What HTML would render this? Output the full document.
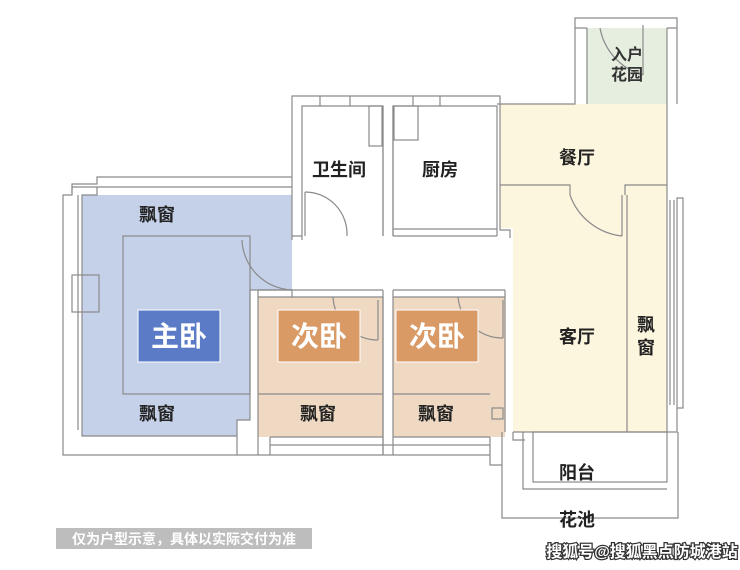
<!DOCTYPE html>
<html><head><meta charset="utf-8"><style>
html,body{margin:0;padding:0;background:#fff;}
svg{display:block;}
text{font-family:"Liberation Sans","Noto Sans CJK SC",sans-serif;font-weight:bold;}
</style></head><body>
<svg width="740" height="570" viewBox="0 0 740 570" xmlns="http://www.w3.org/2000/svg">
<!-- fills -->
<polygon points="82,195 292,195 292,290 250,290 250,420 237,420 237,436 82,436" fill="#c5d1e9"/>
<rect x="258" y="297" width="125" height="140" fill="#efd9c3"/>
<rect x="393" y="297" width="112" height="140" fill="#efd9c3"/>
<polygon points="500,104 667,104 667,432 513,432 513,228 500,228" fill="#fdf6df"/>
<rect x="587" y="28" width="80" height="76" fill="#e5eedf"/>
<g fill="none" stroke="#8a8a8a" stroke-width="1.2">
<!-- master bedroom walls -->
<path d="M292,177 H97 V184 H72 V195 H63 V455 H237"/>
<path d="M292,187 H72 V193"/>
<path d="M97,187 V195 H82 V436 H237"/>
<path d="M78,195 V430"/>
<rect x="72" y="275" width="27" height="37"/>
<rect x="123" y="236" width="127" height="158"/>
<path d="M250,290 V420 H237 V455 H270 V437"/>
<path d="M250,290 H292 V297"/>
<path d="M242,240 A52,52 0 0 0 292,290"/>
<!-- bath kitchen -->
<path d="M292,177 V96 H500 V104"/>
<path d="M302,240 V106 H383 V236"/>
<path d="M393,236 V106 H497 V236"/>
<path d="M383,106 V236 M393,106 V236"/>
<path d="M320,96 V106 M350,96 V106 M413,96 V106 M440,96 V106"/>
<rect x="369" y="106" width="13" height="40"/>
<rect x="394" y="106" width="24" height="34"/>
<path d="M305,192 A42,42 0 0 1 347,236"/>
<path d="M305,192 V236"/>
<path d="M393,229 H497 M393,236 H497"/>
<path d="M292,236 H302 M292,177 V240"/>
<!-- secondary bedrooms -->
<path d="M258,290 V455 M258,297 H383 V455 M393,297 H505"/>
<path d="M383,290 V455 M393,290 V455"/>
<path d="M258,290 H383 M393,290 H505"/>
<path d="M258,394 H383 M393,394 H490"/>
<path d="M270,437 H383 M393,437 H490 M270,445 H490 M270,455 H490"/>
<path d="M333,297 A45,45 0 0 0 378,340"/>
<path d="M458,297 A45,45 0 0 0 503,338"/>
<path d="M378,300 V340 M503,300 V338"/>
<rect x="492" y="408" width="11" height="11"/>
<path d="M490,437 V465 H502 M505,290 V432"/>
<!-- living dining -->
<path d="M497,104 H575 V18 H677 V104"/>
<path d="M587,28 V104 M667,28 V104"/>
<path d="M575,28 H587 M667,28 H677"/>
<path d="M600,28 A60,60 0 0 0 643,75 M643,25 V75"/>
<path d="M500,104 V230 H510 V238"/>
<path d="M500,185 H570 V195 M625,195 V185 H667"/>
<path d="M570,195 A62,62 0 0 0 622,236 M622,195 V236"/>
<path d="M627,195 V432"/>
<path d="M667,104 V432 H677 V198 H683 V408 H677"/>
<path d="M670,200 V405 M674,200 V405"/>
<!-- balcony -->
<path d="M513,432 H667 M502,432 V518 H678 V432"/>
<rect x="533" y="432" width="134" height="50"/>
<path d="M523,432 V489 H667 V489"/>
<path d="M513,432 V440 H525"/>
</g>
<rect x="138" y="310" width="82" height="52" fill="#5b7bc7" stroke="#fff" stroke-width="1"/>
<rect x="278" y="310" width="82" height="52" fill="#d99a66" stroke="#fff" stroke-width="1"/>
<rect x="396" y="310" width="82" height="52" fill="#d99a66" stroke="#fff" stroke-width="1"/>
<g fill="#fff" font-size="28" text-anchor="middle">
<text x="179" y="346">主卧</text>
<text x="319" y="346">次卧</text>
<text x="437" y="346">次卧</text>
</g>
<g fill="#222" font-size="18" text-anchor="middle">
<text x="157" y="221">飘窗</text>
<text x="157" y="420">飘窗</text>
<text x="318" y="420">飘窗</text>
<text x="436" y="420">飘窗</text>
<text x="339" y="176">卫生间</text>
<text x="440" y="176">厨房</text>
<text x="577" y="164">餐厅</text>
<text x="577" y="343">客厅</text>
<text x="646" y="331">飘</text>
<text x="646" y="354">窗</text>
<text x="577" y="479">阳台</text>
<text x="577" y="526">花池</text>
</g>
<g fill="#333" font-size="16" text-anchor="middle">
<text x="627" y="60">入户</text>
<text x="627" y="80">花园</text>
</g>
<rect x="56" y="528" width="256" height="21" fill="#bdbdbd"/>
<text x="184" y="544" fill="#fff" font-size="14" text-anchor="middle">仅为户型示意，具体以实际交付为准</text>
<text x="642" y="557" fill="#fff" stroke="#333" stroke-width="2.5" paint-order="stroke" font-size="16" text-anchor="middle">搜狐号@搜狐黑点防城港站</text>
</svg>
</body></html>
